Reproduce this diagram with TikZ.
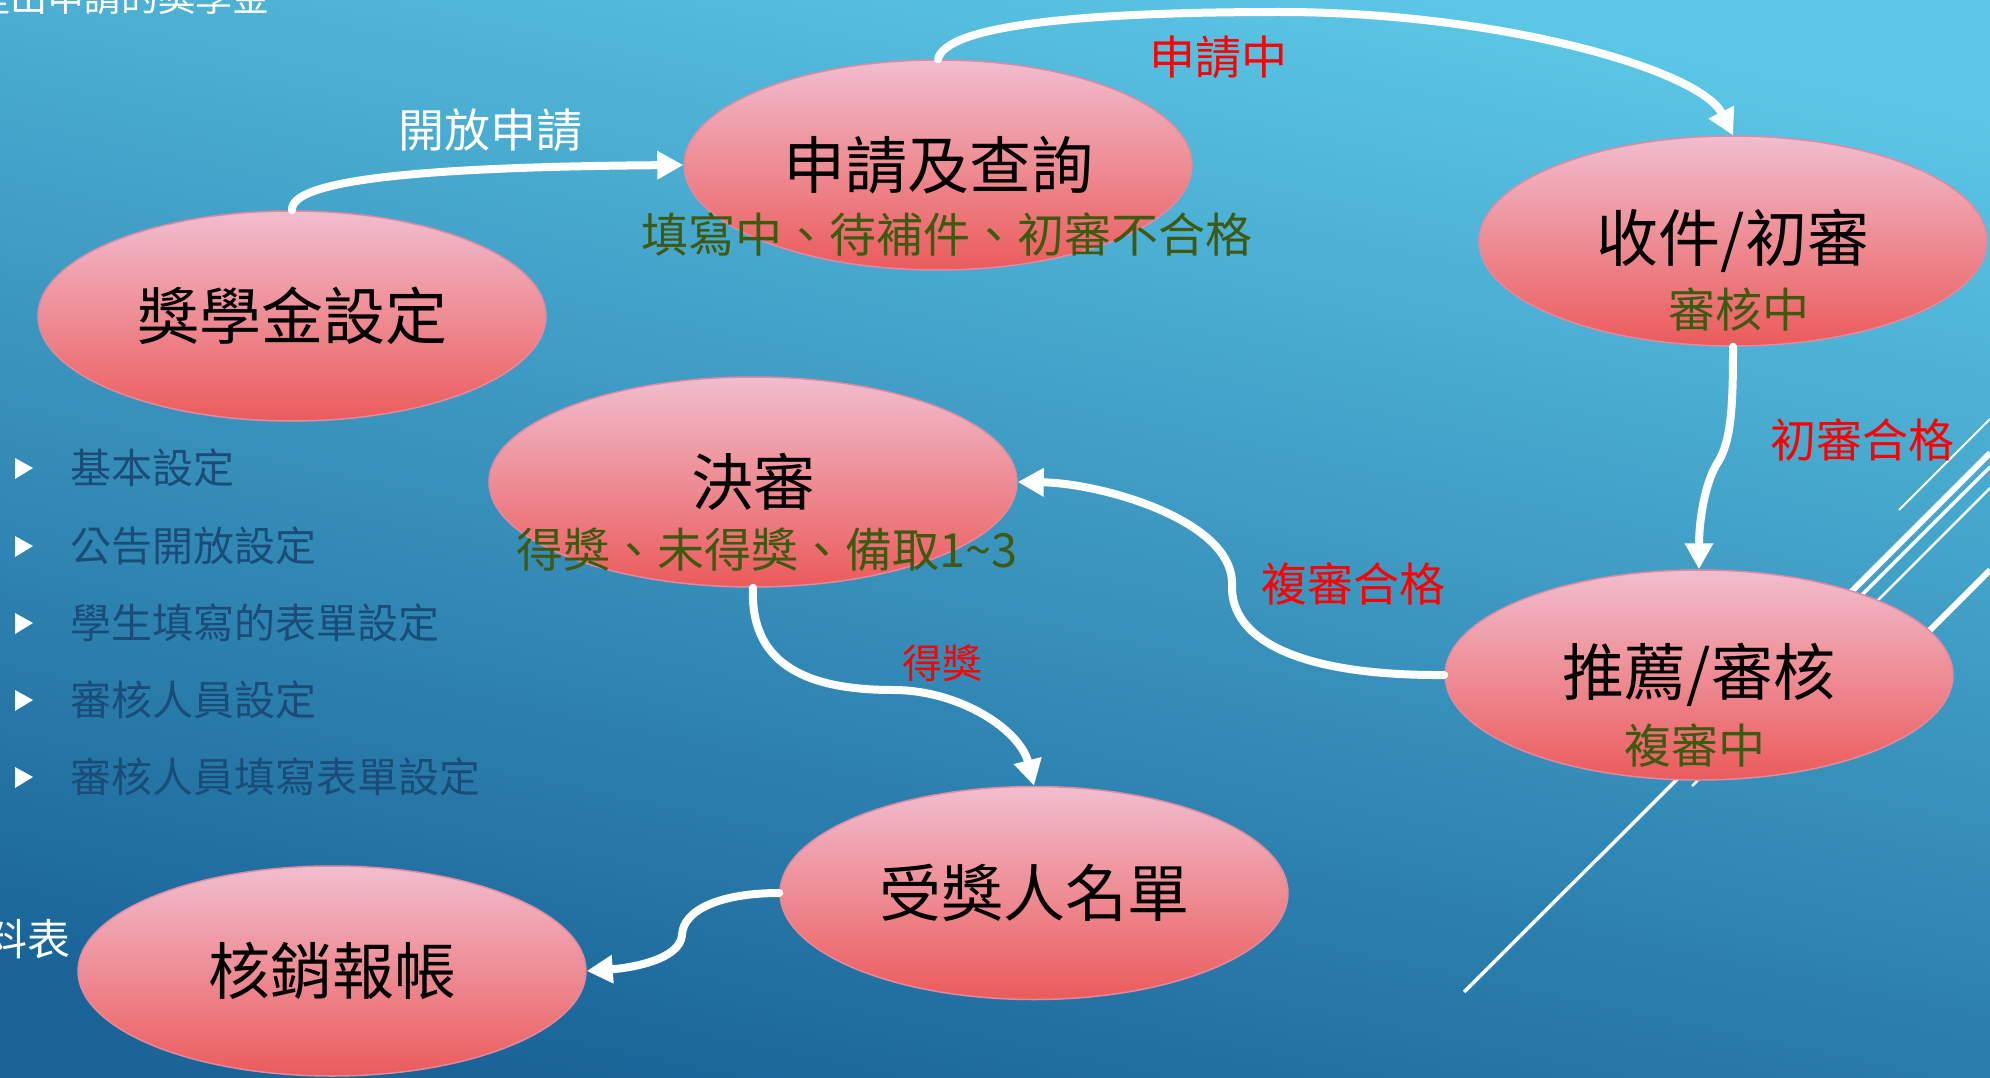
\documentclass[tikz,border=0pt]{standalone}
\usepackage{fontspec}
\setmainfont{Noto Sans CJK TC}
\usetikzlibrary{shapes.geometric,arrows.meta}
\definecolor{bgtop}{HTML}{5BC6E5}
\definecolor{bgbot}{HTML}{1A6498}
\definecolor{elltop}{HTML}{F1BDCE}
\definecolor{ellmid}{HTML}{EFA0B1}
\definecolor{ellbot}{HTML}{EB5B5B}
\definecolor{ellborder}{HTML}{E08AA2}
\definecolor{subgreen}{HTML}{3E5912}
\definecolor{bullettext}{HTML}{1A4C7A}
\tikzset{
  ell/.style={ellipse, draw=ellborder, line width=1.5pt, top color=elltop, middle color=ellmid, bottom color=ellbot,
     minimum width=508pt, minimum height=210pt, inner sep=0pt, font=\fontsize{62}{66}\selectfont, text=black},
  subtxt/.style={font=\fontsize{47}{50}\selectfont, text=subgreen, inner sep=0pt},
  redlbl/.style={font=\fontsize{46}{50}\selectfont, text=red, inner sep=0pt},
  whitelbl/.style={font=\fontsize{46}{50}\selectfont, text=white, inner sep=0pt},
  bullettxt/.style={font=\fontsize{41}{45}\selectfont, text=bullettext, anchor=west, inner sep=0pt},
  conn/.style={draw=white, line width=8pt, line cap=round, -{Triangle[length=26pt,width=27pt]}},
  deco/.style={draw=white},
}
\begin{document}
\begin{tikzpicture}[x=1pt,y=-1pt]
% background
\shade[top color=bgtop, bottom color=bgbot, shading angle=-12] (0,0) rectangle (1990,1078);
\useasboundingbox (0,0) rectangle (1990,1078);
% cut-off texts at edges
\node[whitelbl, font=\fontsize{37}{40}\selectfont, anchor=base east] (toptxt) at (270,12) {提出申請的獎學金};
\node[whitelbl, font=\fontsize{43}{46}\selectfont, anchor=base east] (lefttxt) at (71,955) {料表};
% decorative lines
\draw[deco, line width=2pt] (1899,510) -- (1990,419);
\draw[deco, line width=6pt] (1760,683) -- (1990,453);
\draw[deco, line width=3.5pt] (1464,992) -- (1990,467);
\draw[deco, line width=2.5pt] (1692,786) -- (1990,488);
\draw[deco, line width=6pt] (1880,680) -- (1990,570);
% bullet list
\foreach \yy/\txt/\nm in {468/基本設定/b1, 546/公告開放設定/b2, 623/學生填寫的表單設定/b3, 700/審核人員設定/b4, 777/審核人員填寫表單設定/b5}{
  \fill[white] (15,\yy-10) -- (33,\yy) -- (15,\yy+11) -- cycle;
  \node[bullettxt] (\nm) at (70,\yy) {\txt};
}
% ellipses
\node[ell] (n1) at (292,316) {獎學金設定};
\node[ell] (n2) at (938,165) {申請及查詢};
\node[ell] (n3) at (1733,241) {收件/初審};
\node[ell, minimum width=528pt] (n4) at (753,482) {決審};
\node[ell] (n5) at (1699,675) {推薦/審核};
\node[ell, minimum height=213pt] (n6) at (1034,893) {受獎人名單};
\node[ell] (n7) at (332,971) {核銷報帳};
% subtitles
\node[subtxt] (s2) at (947,235) {填寫中、待補件、初審不合格};
\node[subtxt] (s3) at (1739,310) {審核中};
\node[subtxt] (s4) at (767,550) {得獎、未得獎、備取1\textasciitilde3};
\node[subtxt] (s5) at (1695,746) {複審中};
% connectors
\draw[conn] (n1.north) .. controls (290,180) and (420,167) .. (n2.west);
\draw[conn] (n2.north) .. controls (945,28) and (1060,12) .. (1280,12) .. controls (1500,12) and (1700,70) .. (n3.north);
\draw[conn] (n3.south) .. controls (1733,400) and (1732,440) .. (1718,462) .. controls (1705,482) and (1699,520) .. (n5.north);
\draw[conn] (n5.west) .. controls (1300,676) and (1230,640) .. (1232,585) .. controls (1234,520) and (1100,483) .. (n4.east);
\draw[conn] (n4.south) .. controls (750,660) and (800,690) .. (893,690) .. controls (960,690) and (1020,730) .. (n6.north);
\draw[conn] (n6.west) .. controls (720,893) and (683,910) .. (682,935) .. controls (680,960) and (630,968) .. (n7.east);
% labels
\node[whitelbl] (l1) at (490,130) {開放申請};
\node[redlbl] (l2) at (1218,57) {申請中};
\node[redlbl] (l3) at (1862,440) {初審合格};
\node[redlbl] (l4) at (1353,584) {複審合格};
\node[redlbl, font=\fontsize{40}{44}\selectfont] (l5) at (942,663) {得獎};
\end{tikzpicture}
\end{document}
